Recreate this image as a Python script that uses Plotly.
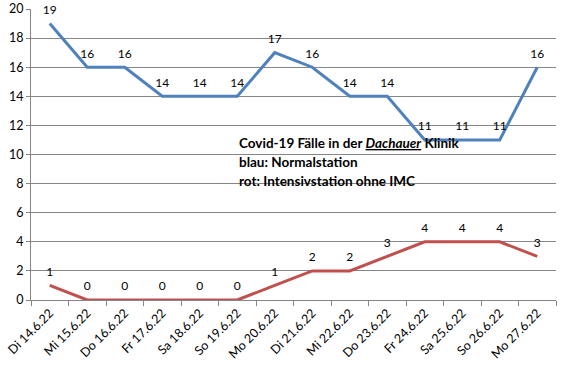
import plotly.graph_objects as go

dates = ["Di 14.6.22", "Mi 15.6.22", "Do 16.6.22", "Fr 17.6.22", "Sa 18.6.22",
         "So 19.6.22", "Mo 20.6.22", "Di 21.6.22", "Mi 22.6.22", "Do 23.6.22",
         "Fr 24.6.22", "Sa 25.6.22", "So 26.6.22", "Mo 27.6.22"]
normalstation = [19, 16, 16, 14, 14, 14, 17, 16, 14, 14, 11, 11, 11, 16]
intensivstation = [1, 0, 0, 0, 0, 0, 1, 2, 2, 3, 4, 4, 4, 3]
y_ticks = [0, 2, 4, 6, 8, 10, 12, 14, 16, 18, 20]
note_lines = ["<b>Covid-19 Fälle in der <i><u>Dachauer</u></i> Klinik</b>",
              "<b>blau: Normalstation</b>",
              "<b>rot: Intensivstation ohne IMC</b>"]

FONT = "Lato, 'Open Sans', sans-serif"

fig = go.Figure()
fig.add_trace(go.Scatter(
    x=dates, y=normalstation, mode="lines+markers+text",
    line=dict(color="#4F81BD", width=3),
    marker=dict(size=9, opacity=0, color="#4F81BD"),
    text=[str(v) for v in normalstation], textposition="top center",
    textfont=dict(family=FONT, size=12, color="#000000"),
    cliponaxis=False, showlegend=False))
fig.add_trace(go.Scatter(
    x=dates, y=intensivstation, mode="lines+markers+text",
    line=dict(color="#C0504D", width=3),
    marker=dict(size=9, opacity=0, color="#C0504D"),
    text=[str(v) for v in intensivstation], textposition="top center",
    textfont=dict(family=FONT, size=12, color="#000000"),
    cliponaxis=False, showlegend=False))

for i, line in enumerate(note_lines):
    fig.add_annotation(
        xref="paper", yref="paper", x=0.394, y=0.5395 - i * 0.0653,
        xanchor="left", yanchor="middle", align="left", showarrow=False,
        borderpad=0, text=line,
        font=dict(family=FONT, size=13.5, color="#000000"))

fig.update_layout(
    width=566, height=373,
    margin=dict(l=31, r=10, t=9, b=73, autoexpand=False),
    paper_bgcolor="white", plot_bgcolor="white",
    font=dict(family=FONT, size=12, color="#000000"),
)
fig.update_xaxes(
    type="category", tickangle=-45, tickson="boundaries", ticks="outside",
    ticklen=5, tickcolor="#868686", showline=True, linecolor="#868686",
    linewidth=1, showgrid=False, tickfont=dict(family=FONT, size=12.5),
    range=[-0.5, 13.5], automargin=False)
fig.update_yaxes(
    range=[0, 20], tickvals=y_ticks, showgrid=True, gridcolor="#868686",
    gridwidth=1, showline=True, linecolor="#868686", ticks="outside",
    ticklen=4, tickcolor="#868686", zeroline=False,
    tickfont=dict(family=FONT, size=12.5), automargin=False)

fig.write_html("out.html", config={"displayModeBar": False},
               post_script="document.body.style.margin='0px';")
